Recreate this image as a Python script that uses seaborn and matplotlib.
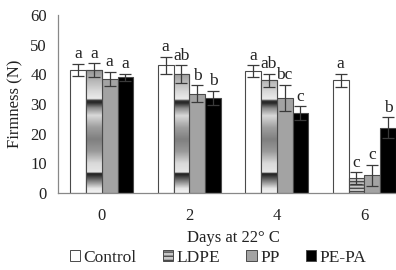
import numpy as np
import pandas as pd
import seaborn as sns
import matplotlib.pyplot as plt
from matplotlib.patches import Patch

# Данные
days = ['0', '2', '4', '6']
films = ['Control', 'LDPE', 'PP', 'PE-PA']

control = [41.5, 43.0, 41.0, 38.0]
ldpe = [41.5, 40.0, 38.0, 5.0]
pp = [38.5, 33.5, 32.0, 6.0]
pepa = [39.0, 32.0, 27.0, 22.0]

control_err = [2.0, 3.0, 2.0, 2.2]
ldpe_err = [2.3, 3.0, 2.2, 2.0]
pp_err = [2.3, 2.8, 4.5, 3.5]
pepa_err = [1.2, 2.5, 2.3, 3.5]

control_let = ['a', 'a', 'a', 'a']
ldpe_let = ['a', 'ab', 'ab', 'c']
pp_let = ['a', 'b', 'bc', 'c']
pepa_let = ['a', 'b', 'c', 'b']

values = [control, ldpe, pp, pepa]
errors = [control_err, ldpe_err, pp_err, pepa_err]
letters = [control_let, ldpe_let, pp_let, pepa_let]

df = pd.DataFrame({
    'Day': days * 4,
    'Firmness': control + ldpe + pp + pepa,
    'Film': [f for f in films for _ in days],
})

colors = {'Control': '#ffffff', 'LDPE': '#b0b0b0', 'PP': '#a3a3a3', 'PE-PA': '#000000'}

sns.set_style('white')
plt.rcParams['font.family'] = ['Liberation Serif', 'DejaVu Serif']
plt.rcParams['font.size'] = 11.5
plt.rcParams['hatch.color'] = '#666666'

fig = plt.figure(figsize=(3.96, 2.70), dpi=100)
ax = fig.add_axes([58 / 396, 1 - 193 / 270, 350 / 396, 178 / 270])

sns.barplot(data=df, x='Day', y='Firmness', hue='Film', order=days, hue_order=films,
            palette=colors, width=0.72, saturation=1, edgecolor='#4a4a4a',
            linewidth=0.8, legend=False, errorbar=None, ax=ax)

# Градиент "металлик" для LDPE
keys = [0, 1.5, 4, 5.8, 6.5, 7.0, 10, 14, 18, 22, 26, 28.5, 30.3, 31.0, 31.6, 34, 38, 42, 60]
shade = [0.95, 0.9, 0.5, 0.2, 0.12, 0.9, 0.85, 0.6, 0.5, 0.62, 0.85, 0.55, 0.15, 0.2, 0.92, 0.85, 0.7, 0.55, 0.6]
yy = np.linspace(0, 60, 600)
grad = np.interp(yy, keys, shade)[:, None]

for i, bar in enumerate(ax.containers[1]):
    x0, w, h = bar.get_x(), bar.get_width(), bar.get_height()
    if i == 3:
        bar.set_facecolor('#c8c8c8')
        bar.set_hatch('-----')
        continue
    im = ax.imshow(grad, extent=[x0, x0 + w, 0, 60], origin='lower', aspect='auto',
                   cmap='gray', vmin=0, vmax=1, zorder=bar.get_zorder() + 0.1)
    im.set_clip_path(bar)
    ax.bar(x0 + w / 2, h, width=w, facecolor='none', edgecolor='#4a4a4a',
           linewidth=0.8, zorder=bar.get_zorder() + 0.2)

for k, cont in enumerate(ax.containers[:4]):
    for j, bar in enumerate(cont):
        xc = bar.get_x() + bar.get_width() / 2
        h = bar.get_height()
        ax.errorbar(xc, h, yerr=errors[k][j], fmt='none', ecolor='#3a3a3a',
                    elinewidth=0.9, capsize=4, capthick=0.9, zorder=5)
        ax.text(xc, h + errors[k][j] + 0.5, letters[k][j], ha='center', va='bottom',
                fontsize=12.5, color='#222222')

ax.set_xlim(-0.5, 3.5)
ax.set_ylim(0, 60)
ax.set_yticks(range(0, 61, 10))
ax.set_xticks(range(4))
ax.set_xticklabels(days)
ax.set_xticks([0.5, 1.5, 2.5], minor=True)
ax.tick_params(axis='x', which='major', length=0, pad=11, colors='#222222', labelsize=12)
ax.tick_params(axis='x', which='minor', length=4, direction='out', color='#888888')
ax.tick_params(axis='y', length=5, direction='out', color='#888888', colors='#222222',
               pad=3, labelsize=12)
for s in ['top', 'right']:
    ax.spines[s].set_visible(False)
for s in ['left', 'bottom']:
    ax.spines[s].set_color('#888888')
    ax.spines[s].set_linewidth(0.9)

ax.set_xlabel('Days at 22° C', color='#222222', labelpad=4, fontsize=12)
ax.set_ylabel('Firmness (N)', color='#222222', labelpad=5, fontsize=12)

handles = [
    Patch(facecolor='white', edgecolor='#4a4a4a', linewidth=0.7, label='Control'),
    Patch(facecolor='#c8c8c8', edgecolor='#4a4a4a', linewidth=0.7, hatch='----', label='LDPE'),
    Patch(facecolor='#a3a3a3', edgecolor='#4a4a4a', linewidth=0.7, label='PP'),
    Patch(facecolor='black', edgecolor='#4a4a4a', linewidth=0.7, label='PE-PA'),
]
fig.legend(handles=handles, loc='center', bbox_to_anchor=(218 / 396, 1 - 258 / 270),
           ncol=4, frameon=False, handlelength=0.6, handleheight=0.6, fontsize=12.5,
           handletextpad=0.2, columnspacing=1.5, borderpad=0)

fig.savefig('out.png', dpi=100)
